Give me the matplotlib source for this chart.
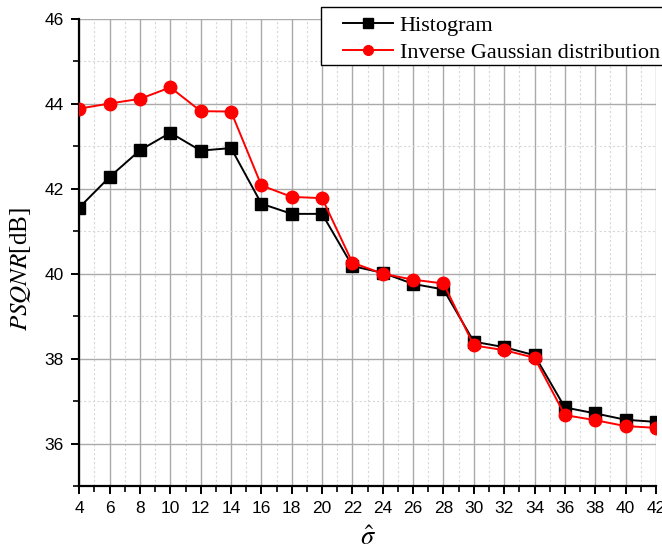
import matplotlib
matplotlib.use("Agg")
import matplotlib.pyplot as plt
from matplotlib.patches import Rectangle
from matplotlib.ticker import MultipleLocator

plt.rcParams["mathtext.fontset"] = "stix"

sigma = [4, 6, 8, 10, 12, 14, 16, 18, 20, 22, 24, 26, 28, 30, 32, 34, 36, 38, 40, 42]
histogram = [41.56, 42.28, 42.91, 43.32, 42.90, 42.96, 41.65, 41.41, 41.41, 40.18,
             40.02, 39.76, 39.63, 38.40, 38.27, 38.08, 36.85, 36.71, 36.56, 36.51]
inv_gauss = [43.89, 44.01, 44.12, 44.39, 43.83, 43.82, 42.08, 41.81, 41.78, 40.26,
             40.00, 39.86, 39.77, 38.31, 38.20, 38.02, 36.67, 36.55, 36.41, 36.37]
x_ticks = list(range(4, 43, 2))
y_ticks = [36, 38, 40, 42, 44, 46]

W, H = 662, 550
fig = plt.figure(figsize=(W / 100, H / 100), dpi=100)
ax = fig.add_axes([0.1198, 0.1164, 0.871, 0.849])

ax.plot(sigma, histogram, color="black", lw=1.4, marker="s", ms=8.5,
        label="Histogram", zorder=3)
ax.plot(sigma, inv_gauss, color="red", lw=1.4, marker="o", ms=9,
        label="Inverse Gaussian distribution", zorder=4)

ax.set_xlim(4, 42)
ax.set_ylim(35, 46)
ax.set_xticks(x_ticks)
ax.set_yticks(y_ticks)
ax.xaxis.set_minor_locator(MultipleLocator(1))
ax.yaxis.set_minor_locator(MultipleLocator(1))

ax.grid(which="major", color="#aaaaaa", lw=1.0, ls="-")
ax.grid(which="minor", color="#d8d8d8", lw=0.8, ls=(0, (2, 2)))
ax.set_axisbelow(True)

for side in ("top", "right"):
    ax.spines[side].set_visible(False)
for side in ("left", "bottom"):
    ax.spines[side].set_linewidth(1.6)

ax.tick_params(which="major", direction="out", length=6, width=1.4,
               labelsize=12.5, pad=5)
ax.tick_params(which="minor", direction="out", length=4, width=1.2)
for lab in ax.get_xticklabels() + ax.get_yticklabels():
    lab.set_fontfamily("Liberation Sans")

ax.set_xlabel(r"$\hat{\sigma}$", fontsize=19, labelpad=6)
ax.set_ylabel(r"$\mathit{PSQNR}$[dB]", fontsize=18, family="Liberation Serif")
ax.yaxis.set_label_coords(-0.08, 0.465)

# legend box runs off the right edge, so draw the frame separately
fig.add_artist(Rectangle((321 / W, 1 - 65 / H), (W + 40 - 321) / W, 58 / H,
                         transform=fig.transFigure, facecolor="white",
                         edgecolor="black", lw=1.0, zorder=5))
leg = fig.legend(loc="upper left", bbox_to_anchor=(343 / W, 1 - 15 / H),
                 prop={"family": "Liberation Serif", "size": 16},
                 frameon=False, borderpad=0, handlelength=2.25,
                 labelspacing=0.3, handletextpad=0.3, borderaxespad=0)
leg.set_zorder(6)
for h in leg.legend_handles:
    h.set_markersize(7)

fig.savefig("out.png", dpi=100)
